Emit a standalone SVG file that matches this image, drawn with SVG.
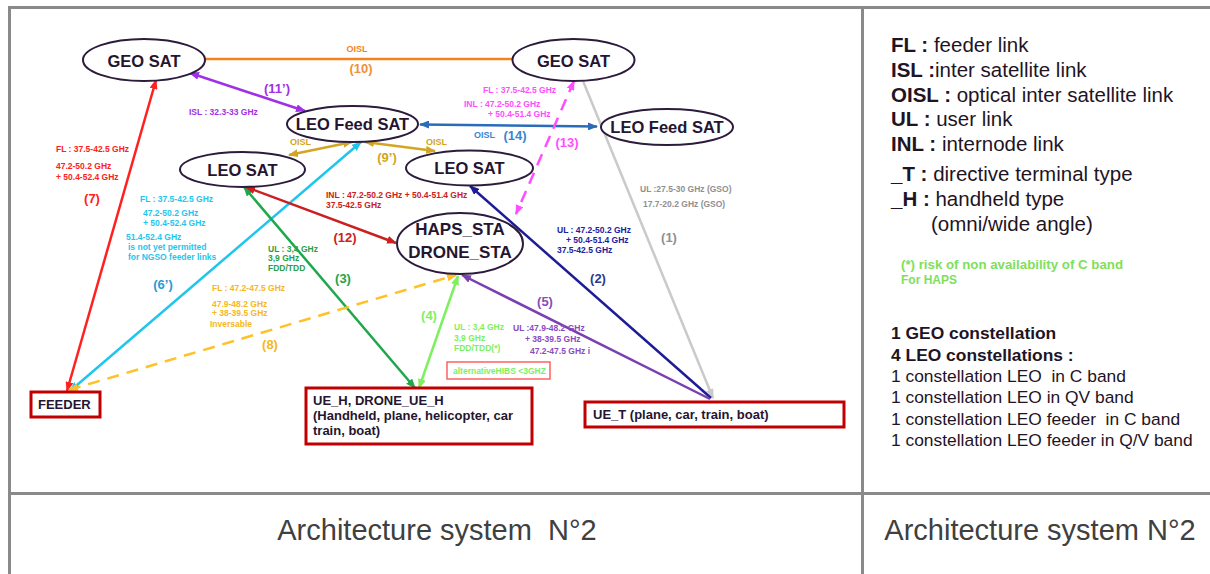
<svg xmlns="http://www.w3.org/2000/svg" width="1210" height="574" viewBox="0 0 1210 574">
  <style>
    text { font-family: "Liberation Sans", Arial, sans-serif; white-space: pre; }
    .grid { stroke: #8a8a8a; stroke-width: 3; fill: none; }
    .sat ellipse { fill: #ffffff; stroke: #2d1b3d; stroke-width: 2; }
    .sat text { font-size: 16.5px; font-weight: bold; fill: #251530; text-anchor: middle; }
    .term rect { fill: #ffffff; stroke: #c00000; stroke-width: 3; }
    .term text { font-size: 13px; font-weight: bold; fill: #251530; }
    .lnk { fill: none; stroke-width: 2.5; }
    .lab { font-size: 8.5px; font-weight: bold; }
    .num { font-size: 13px; font-weight: bold; text-anchor: middle; }
    .leg { font-size: 20.5px; fill: #1f1424; }
    .cst { font-size: 17.4px; fill: #1f1424; }
    .cap { font-size: 29px; fill: #404040; text-anchor: middle; }
  </style>
  <defs>
    <marker id="aRed" viewBox="0 0 10 8" refX="9" refY="4" markerWidth="10" markerHeight="8" markerUnits="userSpaceOnUse" orient="auto-start-reverse"><path d="M0,0 L10,4 L0,8 z" fill="#ff2020"/></marker>
    <marker id="aPur" viewBox="0 0 10 8" refX="9" refY="4" markerWidth="10" markerHeight="8" markerUnits="userSpaceOnUse" orient="auto-start-reverse"><path d="M0,0 L10,4 L0,8 z" fill="#a030e8"/></marker>
    <marker id="aCya" viewBox="0 0 10 8" refX="9" refY="4" markerWidth="10" markerHeight="8" markerUnits="userSpaceOnUse" orient="auto-start-reverse"><path d="M0,0 L10,4 L0,8 z" fill="#1ec6ee"/></marker>
    <marker id="aGol" viewBox="0 0 10 8" refX="9" refY="4" markerWidth="10" markerHeight="8" markerUnits="userSpaceOnUse" orient="auto-start-reverse"><path d="M0,0 L10,4 L0,8 z" fill="#d4a521"/></marker>
    <marker id="aBlu" viewBox="0 0 10 8" refX="9" refY="4" markerWidth="10" markerHeight="8" markerUnits="userSpaceOnUse" orient="auto-start-reverse"><path d="M0,0 L10,4 L0,8 z" fill="#2a6cb8"/></marker>
    <marker id="aMag" viewBox="0 0 10 8" refX="9" refY="4" markerWidth="10" markerHeight="8" markerUnits="userSpaceOnUse" orient="auto-start-reverse"><path d="M0,0 L10,4 L0,8 z" fill="#ff4dff"/></marker>
    <marker id="aGry" viewBox="0 0 10 8" refX="9" refY="4" markerWidth="10" markerHeight="8" markerUnits="userSpaceOnUse" orient="auto-start-reverse"><path d="M0,0 L10,4 L0,8 z" fill="#cacaca"/></marker>
    <marker id="aNav" viewBox="0 0 10 8" refX="9" refY="4" markerWidth="10" markerHeight="8" markerUnits="userSpaceOnUse" orient="auto-start-reverse"><path d="M0,0 L10,4 L0,8 z" fill="#1c1c96"/></marker>
    <marker id="aVio" viewBox="0 0 10 8" refX="9" refY="4" markerWidth="10" markerHeight="8" markerUnits="userSpaceOnUse" orient="auto-start-reverse"><path d="M0,0 L10,4 L0,8 z" fill="#7a3fb0"/></marker>
    <marker id="aLgr" viewBox="0 0 10 8" refX="9" refY="4" markerWidth="10" markerHeight="8" markerUnits="userSpaceOnUse" orient="auto-start-reverse"><path d="M0,0 L10,4 L0,8 z" fill="#7ef060"/></marker>
    <marker id="aDgr" viewBox="0 0 10 8" refX="9" refY="4" markerWidth="10" markerHeight="8" markerUnits="userSpaceOnUse" orient="auto-start-reverse"><path d="M0,0 L10,4 L0,8 z" fill="#1ea84c"/></marker>
    <marker id="aYel" viewBox="0 0 10 8" refX="9" refY="4" markerWidth="10" markerHeight="8" markerUnits="userSpaceOnUse" orient="auto-start-reverse"><path d="M0,0 L10,4 L0,8 z" fill="#ffc125"/></marker>
    <marker id="aDrd" viewBox="0 0 10 8" refX="9" refY="4" markerWidth="10" markerHeight="8" markerUnits="userSpaceOnUse" orient="auto-start-reverse"><path d="M0,0 L10,4 L0,8 z" fill="#cc2020"/></marker>
  </defs>

  <rect width="1210" height="574" fill="#ffffff"/>

  <!-- table frame -->
  <g id="table">
    <path class="grid" d="M9.5,574 V7.5 H1210"/>
    <path class="grid" d="M9.5,493.5 H1210"/>
    <path class="grid" d="M862.5,7.5 V574"/>
    <text class="cap" x="437" y="540">Architecture system  N°2</text>
    <text class="cap" x="1040" y="540">Architecture system N°2</text>
  </g>

  <!-- links -->
  <g id="connectors">
    <line class="lnk" x1="205" y1="59" x2="513" y2="59" stroke="#f5821f"/>
    <line class="lnk" x1="190" y1="73" x2="305" y2="111" stroke="#a030e8" marker-start="url(#aPur)" marker-end="url(#aPur)"/>
    <line class="lnk" x1="67" y1="391" x2="156" y2="80" stroke="#ff2020" marker-start="url(#aRed)" marker-end="url(#aRed)"/>
    <line class="lnk" x1="70" y1="391" x2="361" y2="142" stroke="#1ec6ee" marker-start="url(#aCya)" marker-end="url(#aCya)"/>
    <line class="lnk" x1="352" y1="142" x2="289" y2="155" stroke="#d4a521" marker-start="url(#aGol)" marker-end="url(#aGol)"/>
    <line class="lnk" x1="365" y1="142" x2="435" y2="151" stroke="#d4a521" marker-start="url(#aGol)" marker-end="url(#aGol)"/>
    <line class="lnk" x1="420" y1="124.5" x2="597" y2="126.5" stroke="#2a6cb8" marker-start="url(#aBlu)" marker-end="url(#aBlu)"/>
    <line class="lnk" x1="574" y1="81" x2="516" y2="214" stroke="#ff4dff" stroke-dasharray="12 8" marker-start="url(#aMag)" marker-end="url(#aMag)"/>
    <line class="lnk" x1="583" y1="81" x2="713" y2="398" stroke="#cacaca" stroke-width="3" marker-end="url(#aGry)"/>
    <line class="lnk" x1="711" y1="398" x2="470" y2="186" stroke="#1c1c96" marker-end="url(#aNav)"/>
    <line class="lnk" x1="710" y1="399" x2="462" y2="275" stroke="#7a3fb0" marker-end="url(#aVio)"/>
    <line class="lnk" x1="419" y1="388" x2="458" y2="276" stroke="#7ef060" marker-start="url(#aLgr)" marker-end="url(#aLgr)"/>
    <line class="lnk" x1="415" y1="388" x2="244" y2="187" stroke="#1ea84c" marker-start="url(#aDgr)" marker-end="url(#aDgr)"/>
    <line class="lnk" x1="69" y1="390" x2="456" y2="275" stroke="#ffc125" stroke-dasharray="12 8" marker-start="url(#aYel)" marker-end="url(#aYel)"/>
    <line class="lnk" x1="246" y1="187" x2="396" y2="243" stroke="#cc2020" marker-start="url(#aDrd)" marker-end="url(#aDrd)"/>
  </g>

  <!-- link labels -->
  <g id="link-labels">
    <text x="357" y="52" font-size="9px" font-weight="bold" fill="#f5821f" text-anchor="middle">OISL</text>
    <text class="num" x="361" y="73" fill="#f0903a">(10)</text>

    <text class="num" x="277" y="93" fill="#a030e8">(11’)</text>
    <text class="lab" x="189" y="115" fill="#a030e8">ISL : 32.3-33 GHz</text>

    <text class="lab" x="56" y="152" fill="#ff2020">FL : 37.5-42.5 GHz</text>
    <text class="lab" x="56" y="169" fill="#ff2020">47.2-50.2 GHz</text>
    <text class="lab" x="56" y="180" fill="#ff2020">+ 50.4-52.4 GHz</text>
    <text class="num" x="92" y="203" fill="#ff2020">(7)</text>

    <text class="lab" x="140" y="202" fill="#1ec6ee">FL : 37.5-42.5 GHz</text>
    <text class="lab" x="143" y="216" fill="#1ec6ee">47.2-50.2 GHz</text>
    <text class="lab" x="143" y="226" fill="#1ec6ee">+ 50.4-52.4 GHz</text>
    <text class="lab" x="126" y="240" fill="#1ec6ee">51.4-52.4 GHz</text>
    <text class="lab" x="128" y="250" fill="#1ec6ee">is not yet permitted</text>
    <text class="lab" x="128" y="260" fill="#1ec6ee">for NGSO feeder links</text>
    <text class="num" x="163" y="289" fill="#2a9ad8">(6’)</text>

    <text x="290" y="145" font-size="9px" font-weight="bold" fill="#d4a521">OISL</text>
    <text x="426" y="145" font-size="9px" font-weight="bold" fill="#d4a521">OISL</text>
    <text class="num" x="387" y="162" fill="#d4a521">(9’)</text>

    <text x="474" y="138" font-size="9px" font-weight="bold" fill="#3a86d0">OISL</text>
    <text class="num" x="515" y="140" fill="#3a86d0">(14)</text>

    <text class="lab" x="483" y="93" fill="#ff4dff">FL : 37.5-42.5 GHz</text>
    <text class="lab" x="464" y="107" fill="#ff4dff">INL : 47.2-50.2 GHz</text>
    <text class="lab" x="488" y="117" fill="#ff4dff">+ 50.4-51.4 GHz</text>
    <text class="num" x="567" y="147" fill="#ff4dff">(13)</text>

    <text class="lab" x="640" y="192" fill="#909090">UL :27.5-30 GHz (GSO)</text>
    <text class="lab" x="643" y="207" fill="#909090">17.7-20.2 GHz (GSO)</text>
    <text class="num" x="669" y="242" fill="#909090">(1)</text>

    <text class="lab" x="557" y="233" fill="#2020a0">UL : 47.2-50.2 GHz</text>
    <text class="lab" x="566" y="243" fill="#2020a0">+ 50.4-51.4 GHz</text>
    <text class="lab" x="557" y="253" fill="#2020a0">37.5-42.5 GHz</text>
    <text class="num" x="598" y="283" fill="#2a3a90">(2)</text>

    <text class="num" x="545" y="306" fill="#8a4ac0">(5)</text>
    <text class="lab" x="513" y="331" fill="#8a4ac0">UL :47.9-48.2 GHz</text>
    <text class="lab" x="525" y="342" fill="#8a4ac0">+ 38-39.5 GHz</text>
    <text class="lab" x="530" y="354" fill="#8a4ac0">47.2-47.5 GHz i</text>

    <text class="num" x="429" y="320" fill="#7ef060">(4)</text>
    <text class="lab" x="454" y="330" fill="#7ef060">UL : 3,4 GHz</text>
    <text class="lab" x="454" y="341" fill="#7ef060">3,9 GHz</text>
    <text class="lab" x="454" y="351" fill="#7ef060">FDD/TDD(*)</text>

    <text class="lab" x="268" y="252" fill="#28a048">UL : 3,4 GHz</text>
    <text class="lab" x="268" y="261" fill="#28a048">3,9 GHz</text>
    <text class="lab" x="268" y="271" fill="#28a048">FDD/TDD</text>
    <text class="num" x="343" y="283" fill="#28a048">(3)</text>

    <text class="lab" x="212" y="291" fill="#f5b820">FL : 47.2-47.5 GHz</text>
    <text class="lab" x="212" y="307" fill="#f5b820">47.9-48.2 GHz</text>
    <text class="lab" x="212" y="316" fill="#f5b820">+ 38-39.5 GHz</text>
    <text class="lab" x="210" y="327" fill="#f5b820">Inversable</text>
    <text class="num" x="270" y="349" fill="#f5b820">(8)</text>

    <text class="lab" x="326" y="198" fill="#cc2020">INL : 47.2-50.2 GHz + 50.4-51.4 GHz</text>
    <text class="lab" x="326" y="208" fill="#cc2020">37.5-42.5 GHz</text>
    <text class="num" x="345" y="242" fill="#cc2020">(12)</text>

    <rect x="447" y="362" width="103" height="17" fill="#ffffff" stroke="#ff6060" stroke-width="1.5"/>
    <text class="lab" x="453" y="374" fill="#7ef060">alternativeHIBS &lt;3GHZ</text>
  </g>

  <!-- satellites and stations -->
  <g id="geo-left" class="sat">
    <ellipse cx="144" cy="60" rx="61" ry="21"/>
    <text x="144" y="66.5">GEO SAT</text>
  </g>
  <g id="geo-right" class="sat">
    <ellipse cx="573.5" cy="60" rx="61" ry="21"/>
    <text x="573.5" y="66.5">GEO SAT</text>
  </g>
  <g id="leo-feed-left" class="sat">
    <ellipse cx="352.5" cy="124" rx="65.5" ry="18"/>
    <text x="352.5" y="130">LEO Feed SAT</text>
  </g>
  <g id="leo-feed-right" class="sat">
    <ellipse cx="667" cy="127" rx="66" ry="18"/>
    <text x="667" y="133">LEO Feed SAT</text>
  </g>
  <g id="leo-left" class="sat">
    <ellipse cx="242.5" cy="169.5" rx="62.5" ry="17.5"/>
    <text x="242.5" y="175.5">LEO SAT</text>
  </g>
  <g id="leo-right" class="sat">
    <ellipse cx="469.5" cy="168" rx="63.5" ry="17.5"/>
    <text x="469.5" y="174">LEO SAT</text>
  </g>
  <g id="haps" class="sat">
    <ellipse cx="460" cy="243.5" rx="63" ry="30.5"/>
    <text x="460" y="235" style="font-size:17px">HAPS_STA</text>
    <text x="460" y="258" style="font-size:17px">DRONE_STA</text>
  </g>

  <g id="feeder" class="term">
    <rect x="31" y="392" width="69" height="25"/>
    <text x="38" y="409">FEEDER</text>
  </g>
  <g id="ue-h" class="term">
    <rect x="306" y="388" width="226" height="56"/>
    <text x="313" y="405">UE_H, DRONE_UE_H</text>
    <text x="313" y="420">(Handheld, plane, helicopter, car</text>
    <text x="313" y="435">train, boat)</text>
  </g>
  <g id="ue-t" class="term">
    <rect x="585" y="402" width="259" height="25"/>
    <text x="593" y="419">UE_T (plane, car, train, boat)</text>
  </g>

  <!-- legend -->
  <g id="legend">
    <text class="leg" x="891" y="52"><tspan font-weight="bold">FL :</tspan> feeder link</text>
    <text class="leg" x="891" y="77"><tspan font-weight="bold">ISL :</tspan>inter satellite link</text>
    <text class="leg" x="891" y="102"><tspan font-weight="bold">OISL :</tspan> optical inter satellite link</text>
    <text class="leg" x="891" y="126"><tspan font-weight="bold">UL :</tspan> user link</text>
    <text class="leg" x="891" y="151"><tspan font-weight="bold">INL :</tspan> internode link</text>
    <text class="leg" x="891" y="181"><tspan font-weight="bold">_T :</tspan> directive terminal type</text>
    <text class="leg" x="891" y="206"><tspan font-weight="bold">_H :</tspan> handheld type</text>
    <text class="leg" x="931" y="231">(omni/wide angle)</text>
    <text x="901" y="269" font-size="12px" font-weight="bold" fill="#7ee05a" textLength="222" lengthAdjust="spacingAndGlyphs">(*) risk of non availability of C band</text>
    <text x="901" y="284" font-size="12px" font-weight="bold" fill="#7ee05a">For HAPS</text>

    <text class="cst" x="891" y="339" font-weight="bold">1 GEO constellation</text>
    <text class="cst" x="891" y="361" font-weight="bold">4 LEO constellations :</text>
    <text class="cst" x="891" y="382">1 constellation LEO  in C band</text>
    <text class="cst" x="891" y="403">1 constellation LEO in QV band</text>
    <text class="cst" x="891" y="425">1 constellation LEO feeder  in C band</text>
    <text class="cst" x="891" y="446">1 constellation LEO feeder in Q/V band</text>
  </g>
</svg>
